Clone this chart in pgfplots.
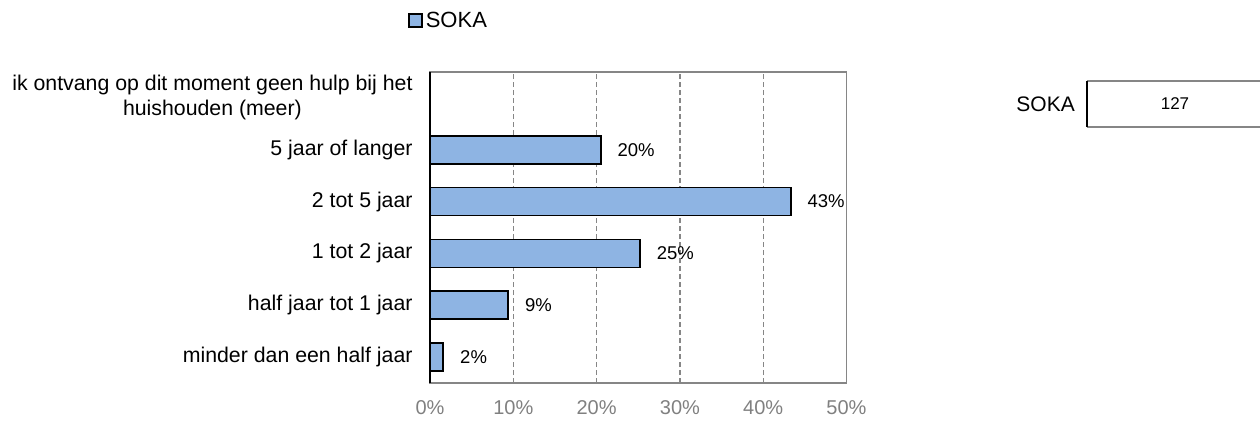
\documentclass[border=0pt]{standalone}
\usepackage{fontspec}
\setmainfont{Liberation Sans}
\usepackage{pgfplots}
\usepackage{pgfplotstable}
\pgfplotsset{compat=1.18}
\definecolor{barblue}{RGB}{142,180,227}
\definecolor{framegray}{RGB}{134,134,134}
\definecolor{ticktext}{RGB}{128,128,128}
\pgfplotstableread{
x y lab
1.6 0 2\%
9.4 1 9\%
25.2 2 25\%
43.3 3 43\%
20.5 4 20\%
}\soka
\begin{document}
\begin{tikzpicture}[x=1bp,y=1bp]
\path[use as bounding box] (0,0) rectangle (1260,-421);
\begin{axis}[
  name=ax,
  at={(430bp,-383bp)}, anchor=south west,
  scale only axis, width=416.5bp, height=311bp,
  xbar, bar width=28bp,
  xmin=0, xmax=50, ymin=-0.5, ymax=5.5,
  xtick={0,10,...,50},
  xticklabel={\pgfmathprintnumber[assume math mode=true]{\tick}\%},
  xticklabel style={font=\fontsize{20bp}{24bp}\selectfont, text=ticktext, inner sep=0pt, yshift=-17.5bp},
  ytick={0,...,5},
  yticklabels={minder dan een half jaar, half jaar tot 1 jaar, 1 tot 2 jaar, 2 tot 5 jaar, 5 jaar of langer, {\begin{tabular}{@{}c@{}}ik ontvang op dit moment geen hulp bij het\\huishouden (meer)\end{tabular}}},
  yticklabel style={font=\fontsize{21.3bp}{25bp}\selectfont, inner sep=0pt, xshift=-13bp},
  xmajorgrids,
  major grid style={dash pattern=on 5bp off 3bp, framegray, line width=1.2bp},
  axis line style={framegray, line width=1.5bp},
  tick style={draw=none},
  point meta=explicit symbolic,
  nodes near coords,
  nodes near coords style={font=\fontsize{18.5bp}{22bp}\selectfont, anchor=west, inner sep=0pt, xshift=16bp},
  legend style={at={(-0.0528,1.1656)}, anchor=west, draw=none, fill=none, inner sep=0pt,
    nodes={inner xsep=3bp, inner ysep=0pt}, font=\fontsize{22bp}{26bp}\selectfont},
  legend image code/.code={\draw[fill=barblue, draw=black, line width=1.6bp] (0bp,-6.5bp) rectangle (13bp,6.5bp);},
]
\addplot[fill=barblue, draw=black, line width=1.8bp] table[x=x, y=y, meta=lab] {\soka};
\addlegendentry{SOKA}
\end{axis}
\draw[black, line width=1.8bp] (ax.south west) -- (ax.north west);
\draw[framegray, line width=1.2bp] (1087,-81) -- (1265,-81);
\draw[framegray, line width=1.5bp] (1087,-127) -- (1265,-127);
\draw[black, line width=1.5bp] (1087,-81) -- (1087,-127);
\node[anchor=east, inner sep=0pt, font=\fontsize{21bp}{25bp}\selectfont] at (1075,-104) {SOKA};
\node[inner sep=0pt, font=\fontsize{17bp}{20bp}\selectfont] at (1175,-104) {127};
\end{tikzpicture}
\end{document}
